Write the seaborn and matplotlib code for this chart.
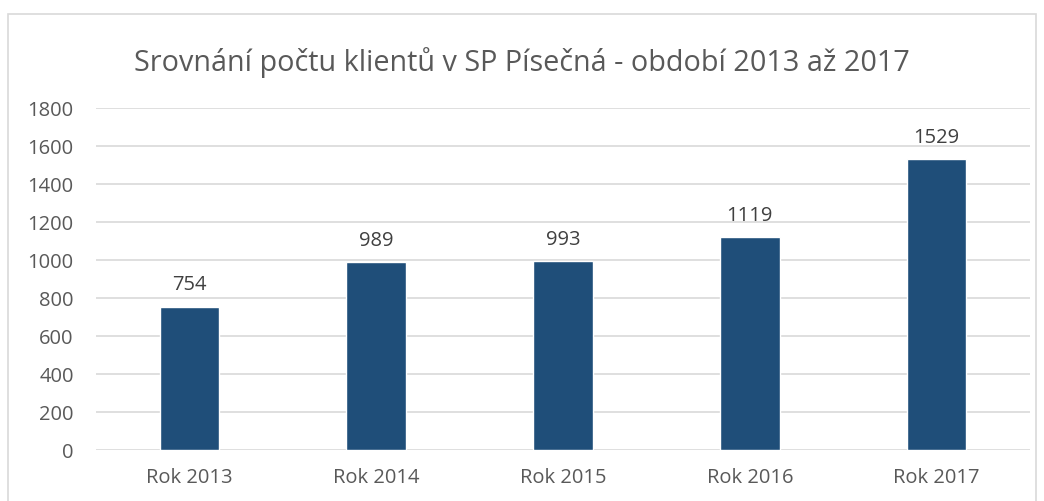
import matplotlib
matplotlib.use("Agg")
import matplotlib.pyplot as plt
import seaborn as sns
import pandas as pd
from matplotlib.patches import Rectangle

categories = ["Rok 2013", "Rok 2014", "Rok 2015", "Rok 2016", "Rok 2017"]
values = [754, 989, 993, 1119, 1529]
yticks = [0, 200, 400, 600, 800, 1000, 1200, 1400, 1600, 1800]
title = "Srovnání počtu klientů v SP Písečná - období 2013 až 2017"

sns.set_theme(style="white")
plt.rcParams['font.family'] = ['Open Sans', 'DejaVu Sans']

df = pd.DataFrame({"cat": categories, "val": values})

fig = plt.figure(figsize=(10.44, 5.02), dpi=100)
ax = fig.add_axes([96/1044, 1-451/502, (1030-96)/1044, (451-109)/502])

sns.barplot(data=df, x="cat", y="val", color="#1F4E79", width=0.32, ax=ax, saturation=1)

ax.set_ylim(0, 1800)
ax.set_yticks(yticks)
ax.yaxis.grid(True, color="#d9d9d9", linewidth=1.2)
ax.set_axisbelow(True)
for s in ax.spines.values():
    s.set_visible(False)
ax.set_xlabel("")
ax.set_ylabel("")
ax.tick_params(axis="both", colors="#595959", labelsize=14.5, length=0)
ax.tick_params(axis="y", pad=16)
ax.tick_params(axis="x", pad=12)

for c in ax.containers:
    ax.bar_label(c, labels=[str(v) for v in values], padding=9, color="#404040", fontsize=14.5)

fig.text(0.5, 1-63/502, title, ha="center", va="center", fontsize=20.7, color="#595959")

fig.patches.append(Rectangle((8/1044, -0.1), (1036-8)/1044, 1.1-15/502, transform=fig.transFigure,
                             fill=False, edgecolor="#d9d9d9", linewidth=1.2))

fig.savefig("out.png", dpi=100)
